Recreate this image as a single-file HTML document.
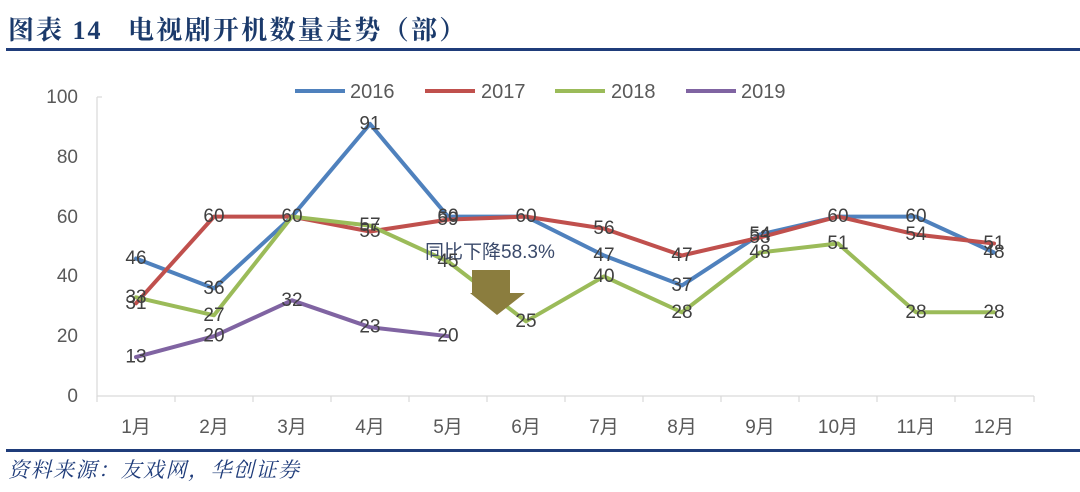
<!DOCTYPE html>
<html><head><meta charset="utf-8"><style>
body{margin:0;background:#fff;}
svg{display:block;}
</style></head><body>
<svg width="1080" height="492" xmlns="http://www.w3.org/2000/svg" font-family="'Liberation Sans','Noto Sans CJK SC',sans-serif">
<g font-family="'Liberation Serif','Noto Serif CJK SC',serif" font-weight="bold" fill="#1b3a6b">
<text x="8" y="39" font-size="26" letter-spacing="2">图表 14</text>
<text x="128" y="39" font-size="26" letter-spacing="2.3">电视剧开机数量走势（部）</text>
</g>
<rect x="6" y="48" width="1074" height="3" fill="#1f3c7a"/>
<rect x="6" y="449" width="1074" height="3" fill="#1f3c7a"/>
<text x="8" y="477" font-size="21" font-style="italic" letter-spacing="1.5" fill="#1f3c7a" font-family="'Noto Serif CJK SC',serif">资料来源：友戏网，华创证券</text>
<g fill="#595959" font-size="19" text-anchor="end">
<text x="78" y="103">100</text><text x="78" y="163">80</text><text x="78" y="223">60</text><text x="78" y="282">40</text><text x="78" y="342">20</text><text x="78" y="402">0</text>
</g>
<g stroke="#d9d9d9" stroke-width="1.2" fill="none">
<path d="M97 97V396H1034"/>
<path d="M97 396v6M175 396v6M253 396v6M331 396v6M409 396v6M487 396v6M565 396v6M643 396v6M721 396v6M799 396v6M877 396v6M955 396v6M1034 396v6"/>
<path d="M97 97h5"/>
</g>
<g fill="#595959" font-size="19" text-anchor="middle">
<text x="136" y="433">1月</text><text x="214" y="433">2月</text><text x="292" y="433">3月</text><text x="370" y="433">4月</text><text x="448" y="433">5月</text><text x="526" y="433">6月</text><text x="604" y="433">7月</text><text x="682" y="433">8月</text><text x="760" y="433">9月</text><text x="838" y="433">10月</text><text x="916" y="433">11月</text><text x="994" y="433">12月</text>
</g>
<g stroke-width="4" fill="none" stroke-linejoin="round">
<path stroke="#4f81bd" d="M295 91h50"/><path stroke="#c0504d" d="M425 91h50"/><path stroke="#9bbb59" d="M555 91h50"/><path stroke="#8064a2" d="M686 91h50"/>
</g>
<g fill="#595959" font-size="20">
<text x="350" y="98">2016</text><text x="481" y="98">2017</text><text x="611" y="98">2018</text><text x="741" y="98">2019</text>
</g>
<g stroke-width="4" fill="none" stroke-linejoin="round" stroke-linecap="round">
<polyline stroke="#4f81bd" points="136,258.5 214,288.4 292,216.6 370,123.9 448,216.6 526,216.6 604,255.5 682,285.4 760,234.5 838,216.6 916,216.6 994,252.5"/>
<polyline stroke="#c0504d" points="136,303.3 214,216.6 292,216.6 370,231.5 448,219.6 526,216.6 604,228.6 682,255.5 760,237.5 838,216.6 916,234.5 994,243.5"/>
<polyline stroke="#9bbb59" points="136,297.3 214,315.3 292,216.6 370,225.6 448,261.5 526,321.3 604,276.4 682,312.3 760,252.5 838,243.5 916,312.3 994,312.3"/>
<polyline stroke="#8064a2" points="136,357.1 214,336.2 292,300.3 370,327.2 448,336.2"/>
</g>
<path d="M472 270H510V293H525L497 315L470 293H472Z" fill="#8b7d3e"/>
<text x="425" y="258" font-size="19" fill="#3b4a6b">同比下降58.3%</text>
<g fill="#404040" font-size="19" text-anchor="middle" dominant-baseline="central">
<text x="136" y="258.5">46</text><text x="214" y="288.4">36</text><text x="370" y="123.9">91</text><text x="448" y="216.6">60</text><text x="604" y="255.5">47</text><text x="682" y="285.4">37</text><text x="760" y="234.5">54</text><text x="916" y="216.6">60</text><text x="994" y="252.5">48</text>
<text x="136" y="303.3">31</text><text x="214" y="216.6">60</text><text x="292" y="216.6">60</text><text x="370" y="231.5">55</text><text x="448" y="219.6">59</text><text x="526" y="216.6">60</text><text x="604" y="228.6">56</text><text x="682" y="255.5">47</text><text x="760" y="237.5">53</text><text x="838" y="216.6">60</text><text x="916" y="234.5">54</text><text x="994" y="243.5">51</text>
<text x="136" y="297.3">33</text><text x="214" y="315.3">27</text><text x="370" y="225.6">57</text><text x="448" y="261.5">45</text><text x="526" y="321.3">25</text><text x="604" y="276.4">40</text><text x="682" y="312.3">28</text><text x="760" y="252.5">48</text><text x="838" y="243.5">51</text><text x="916" y="312.3">28</text><text x="994" y="312.3">28</text>
<text x="136" y="357.1">13</text><text x="214" y="336.2">20</text><text x="292" y="300.3">32</text><text x="370" y="327.2">23</text><text x="448" y="336.2">20</text>
</g>
</svg>
</body></html>
